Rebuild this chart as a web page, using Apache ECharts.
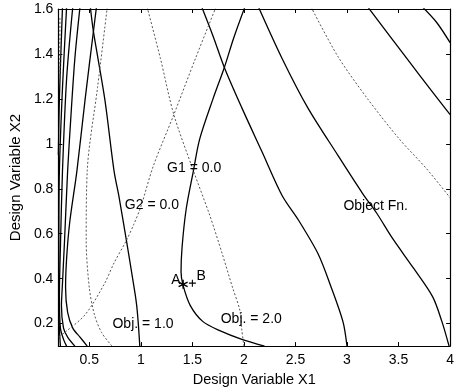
<!DOCTYPE html>
<html>
<head>
<meta charset="utf-8">
<script src="https://cdn.jsdelivr.net/npm/echarts@6/dist/echarts.min.js"></script>
<style>
  html, body { margin: 0; padding: 0; background: #fff; }
  #chart { width: 457px; height: 392px; }
</style>
</head>
<body>
<div id="chart"></div>
<script>
// ---- tick values ----
const xTickValues = [0.5, 1, 1.5, 2, 2.5, 3, 3.5, 4];
const yTickValues = [0.2, 0.4, 0.6, 0.8, 1, 1.2, 1.4, 1.6];

// ---- objective contours (solid), [X1, X2] ----
const objCurveA = [[2.01,1.61],[1.90,1.47],[1.81,1.34],[1.70,1.20],[1.57,1.02],[1.51,0.88],[1.44,0.71],[1.40,0.54],[1.39,0.43],[1.41,0.37],[1.48,0.28],[1.60,0.21],[1.76,0.17],[1.98,0.13],[2.20,0.10]];
const objCurveB = [[0.57,1.61],[0.54,1.50],[0.46,1.20],[0.38,0.88],[0.31,0.65],[0.28,0.49],[0.27,0.36],[0.29,0.25],[0.34,0.18],[0.41,0.14],[0.48,0.10]];
const objCurveC = [[0.41,1.61],[0.36,1.38],[0.32,1.11],[0.29,0.88],[0.26,0.57],[0.24,0.38],[0.23,0.28],[0.25,0.18],[0.29,0.14],[0.36,0.10]];
const objCurveD = [[0.34,1.61],[0.28,1.29],[0.24,0.88],[0.22,0.54],[0.21,0.32],[0.22,0.18],[0.25,0.13],[0.28,0.10]];
const objCurveE = [[0.28,1.61],[0.24,1.25],[0.21,0.88],[0.205,0.55],[0.205,0.25],[0.22,0.10]];
const objCurveF = [[0.24,1.61],[0.21,1.20],[0.20,0.95]];
const diagLine1 = [[0.51,1.61],[0.54,1.50],[0.65,1.20],[0.74,0.88],[0.79,0.76],[0.86,0.57],[0.91,0.43],[0.96,0.28],[0.99,0.10]];
const diagLine2 = [[1.59,1.61],[1.70,1.48],[1.81,1.34],[1.98,1.16],[2.17,0.97],[2.37,0.77],[2.53,0.66],[2.72,0.51],[2.84,0.37],[2.96,0.21],[3.00,0.10]];
const diagLine3 = [[2.14,1.61],[2.37,1.38],[2.62,1.16],[2.91,0.95],[3.15,0.78],[3.29,0.69],[3.44,0.58],[3.64,0.45],[3.83,0.32],[3.92,0.21],[3.99,0.10]];
const diagLine4 = [[3.20,1.61],[3.58,1.38],[3.83,1.23],[4.00,1.13]];
const diagLine5 = [[3.73,1.61],[3.87,1.54],[4.00,1.45]];

// ---- constraint / dotted contours ----
const constraintG1 = [[1.06,1.61],[1.19,1.38],[1.32,1.13],[1.51,0.88],[1.67,0.68],[1.79,0.51],[1.89,0.36],[1.96,0.26],[1.98,0.17],[2.00,0.10]];
const constraintG2 = [[1.73,1.61],[1.53,1.38],[1.32,1.13],[1.12,0.90],[1.00,0.72],[0.93,0.64],[0.86,0.57],[0.74,0.47],[0.65,0.38],[0.46,0.24],[0.26,0.16],[0.20,0.14]];
const dottedLeft = [[0.675,1.61],[0.58,1.25],[0.48,0.88],[0.47,0.57],[0.50,0.36],[0.55,0.24],[0.62,0.16],[0.72,0.10]];
const dottedRight = [[2.65,1.61],[2.91,1.39],[3.20,1.20],[3.51,1.02],[3.77,0.89],[4.00,0.76]];
const dottedEdge = [[0.215,1.56],[0.215,1.28]];

// ---- points ----
const pointA = [[1.41, 0.375]];
const pointB = [[1.50, 0.38]];

// ---- annotation texts and anchors (left edge, vertical centre) ----
const annotationTexts = ['G1 = 0.0', 'G2 = 0.0', 'Object Fn.', 'Obj. = 1.0', 'Obj. = 2.0', 'A', 'B'];
const annotationAnchors = [[1.25,0.89],[0.84,0.727],[2.96,0.723],[0.72,0.196],[1.77,0.218],[1.29,0.395],[1.535,0.413]];

const FONT = 'Liberation Sans, Arial, Helvetica, sans-serif';

const solidCurves = [objCurveA, objCurveB, objCurveC, objCurveD, objCurveE, objCurveF,
                     diagLine1, diagLine2, diagLine3, diagLine4, diagLine5];
const dottedCurves = [constraintG1, constraintG2, dottedLeft, dottedRight, dottedEdge];

const series = [];
solidCurves.forEach(function (d) {
  series.push({
    type: 'line', data: d, showSymbol: false, smooth: 0.3, clip: true,
    lineStyle: { color: '#000', width: 1.3 }, silent: true
  });
});
dottedCurves.forEach(function (d) {
  series.push({
    type: 'line', data: d, showSymbol: false, smooth: 0.3, clip: true,
    lineStyle: { color: '#555', width: 1, type: [2, 2] }, silent: true
  });
});
series.push({
  type: 'scatter', data: pointA, symbol: 'path://M0,-5L0,5M-4.3,-2.5L4.3,2.5M-4.3,2.5L4.3,-2.5',
  symbolSize: 9, itemStyle: { color: 'none', borderColor: '#000', borderWidth: 1.4, opacity: 1 }, silent: true
});
series.push({
  type: 'scatter', data: pointB, symbol: 'path://M-4,0L4,0M0,-4L0,4',
  symbolSize: 7, itemStyle: { color: 'none', borderColor: '#000', borderWidth: 1.1, opacity: 1 }, silent: true
});
series.push({
  type: 'scatter',
  data: annotationAnchors.map(function (p, i) { return { value: p, name: annotationTexts[i] }; }),
  symbol: 'circle', symbolSize: 1, silent: true,
  itemStyle: { color: 'rgba(0,0,0,0)', opacity: 1 },
  label: {
    show: true, position: 'right', distance: 0,
    formatter: function (p) { return p.name; },
    color: '#000', fontSize: 14, fontFamily: FONT, opacity: 1
  },
  z: 10
});

function mkX(pos, main) {
  return {
    type: 'value', min: 0.2, max: 4, position: pos,
    axisLine: { show: true, onZero: false, lineStyle: { color: '#000', width: 1.2 } },
    axisTick: { show: true, inside: true, length: 4, customValues: xTickValues, lineStyle: { color: '#000', width: 1 } },
    axisLabel: main ? { show: true, customValues: xTickValues, color: '#000', fontSize: 14, margin: 7, fontFamily: FONT } : { show: false },
    splitLine: { show: false },
    name: main ? 'Design Variable X1' : '',
    nameLocation: 'middle', nameGap: 20,
    nameTextStyle: { color: '#000', fontSize: 14.5, fontFamily: FONT }
  };
}
function mkY(pos, main) {
  return {
    type: 'value', min: 0.1, max: 1.6, position: pos,
    axisLine: { show: true, onZero: false, lineStyle: { color: '#000', width: 1.2 } },
    axisTick: { show: true, inside: true, length: 4, customValues: yTickValues, lineStyle: { color: '#000', width: 1 } },
    axisLabel: main ? { show: true, customValues: yTickValues, color: '#000', fontSize: 14, margin: 5, fontFamily: FONT } : { show: false },
    splitLine: { show: false },
    name: main ? 'Design Variable X2' : '',
    nameLocation: 'middle', nameGap: 27,
    nameTextStyle: { color: '#000', fontSize: 15, fontFamily: FONT }
  };
}

const chart = echarts.init(document.getElementById('chart'), null, { renderer: 'canvas' });
chart.setOption({
  animation: false,
  backgroundColor: '#fff',
  grid: { left: 53, right: 6, top: 9, bottom: 44 },
  xAxis: [mkX('bottom', true), mkX('top', false)],
  yAxis: [mkY('left', true), mkY('right', false)],
  series: series
});
</script>
</body>
</html>
